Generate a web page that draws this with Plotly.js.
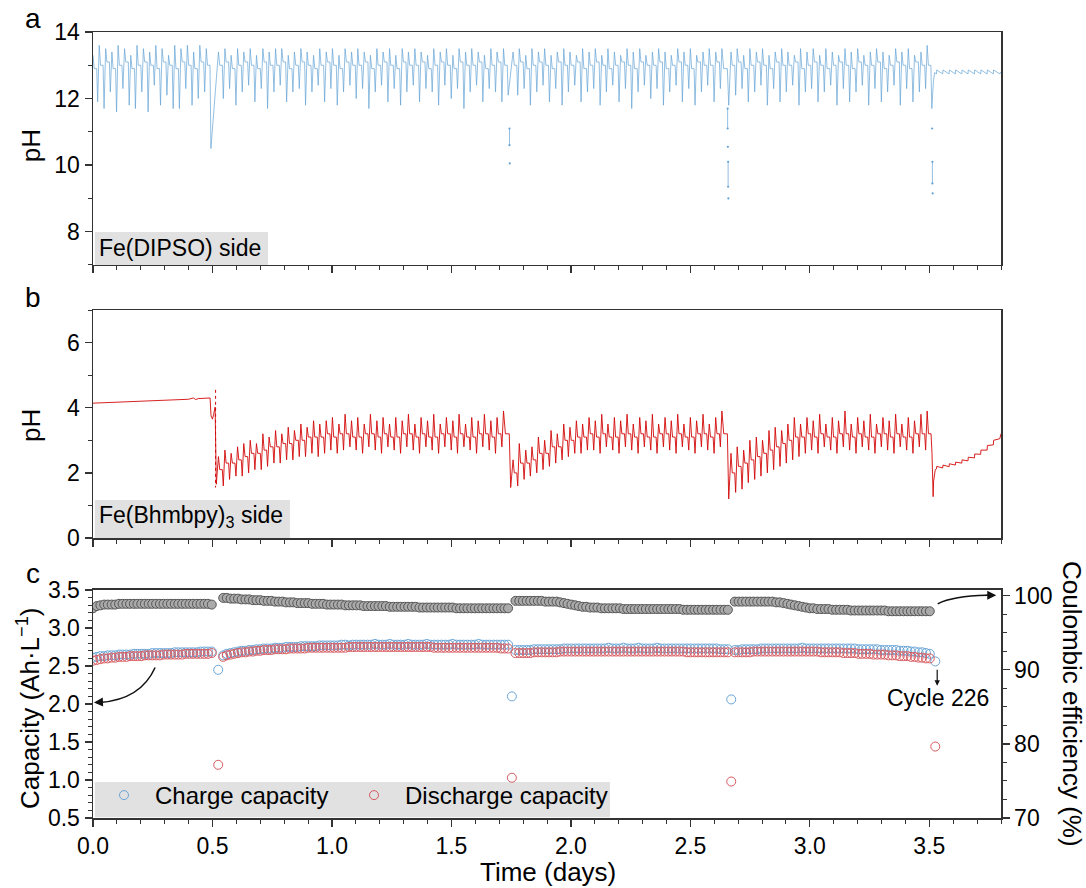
<!DOCTYPE html>
<html><head><meta charset="utf-8">
<script src="https://cdn.plot.ly/plotly-3.0.1.min.js"></script>
<style>html,body{margin:0;padding:0;background:#fff}#chart{width:1086px;height:888px}</style>
</head><body><div id="chart"></div>
<script>
// ---------- pH oscillation timeline (days) ----------
const oscT = [
 0.000,0.026,0.053,0.079,0.105,0.132,0.158,0.184,0.211,0.237,
 0.263,0.289,0.316,0.342,0.368,0.395,0.421,0.447,0.474,
 0.525,0.552,0.578,0.605,0.631,0.658,0.684,0.711,0.737,0.764,
 0.790,0.817,0.843,0.870,0.896,0.923,0.949,0.976,1.002,1.029,
 1.055,1.082,1.108,1.135,1.161,1.188,1.214,1.241,1.267,1.294,
 1.320,1.347,1.373,1.400,1.426,1.453,1.479,1.506,1.532,1.559,
 1.585,1.612,1.638,1.665,1.691,1.718,
 1.758,1.784,1.811,1.837,1.864,1.890,1.917,1.943,1.970,1.996,
 2.023,2.049,2.076,2.102,2.129,2.155,2.182,2.208,2.235,2.261,
 2.288,2.314,2.341,2.367,2.394,2.420,2.447,2.473,2.500,2.526,
 2.553,2.579,2.606,2.632,
 2.670,2.696,2.723,2.749,2.776,2.802,2.829,2.855,2.882,2.908,
 2.935,2.961,2.988,3.014,3.041,3.067,3.094,3.120,3.147,3.173,
 3.200,3.226,3.253,3.279,3.306,3.332,3.359,3.385,3.412,3.438,
 3.465,3.491
];
// ---------- panel a: Fe(DIPSO) side pH ----------
const phA_hi = [
 13.3,13.6,13.5,13.4,13.6,13.5,13.3,13.6,13.5,13.4,
 13.6,13.5,13.3,13.6,13.5,13.6,13.4,13.6,13.5,
 13.4,13.5,13.3,13.5,13.4,13.5,13.3,13.5,13.4,13.5,
 13.5,13.3,13.4,13.5,13.4,13.3,13.5,13.4,13.5,13.3,
 13.5,13.4,13.5,13.4,13.3,13.5,13.4,13.5,13.3,13.5,
 13.4,13.5,13.4,13.3,13.5,13.4,13.5,13.3,13.5,13.4,
 13.5,13.4,13.3,13.5,13.4,13.5,
 13.4,13.5,13.3,13.5,13.4,13.5,13.3,13.4,13.5,13.4,
 13.3,13.5,13.4,13.5,13.3,13.5,13.4,13.3,13.5,13.4,
 13.5,13.3,13.4,13.5,13.4,13.3,13.5,13.4,13.5,13.3,
 13.4,13.5,13.4,13.5,
 13.4,13.5,13.3,13.5,13.4,13.5,13.3,13.4,13.5,13.4,
 13.3,13.5,13.4,13.5,13.3,13.5,13.4,13.3,13.5,13.4,
 13.5,13.3,13.4,13.5,13.4,13.3,13.5,13.4,13.5,13.3,
 13.4,13.6
];
const phA_mid = [
 12.9,13.0,13.1,12.9,13.0,13.1,12.9,13.0,13.1,13.0,
 12.9,13.1,13.0,12.9,13.1,13.0,12.9,13.1,13.0,
 13.0,13.1,12.9,13.0,13.1,13.0,12.9,13.1,13.0,13.0,
 13.1,12.9,13.0,13.1,13.0,12.9,13.0,13.1,13.0,12.9,
 13.1,13.0,13.0,13.1,12.9,13.0,13.1,13.0,12.9,13.1,
 13.0,13.0,13.1,12.9,13.0,13.1,13.0,12.9,13.1,13.0,
 13.0,13.1,12.9,13.0,13.1,13.0,
 13.0,13.1,12.9,13.0,13.1,13.0,12.9,13.1,13.0,13.0,
 13.1,12.9,13.0,13.1,13.0,12.9,13.0,13.1,13.0,12.9,
 13.1,13.0,13.0,13.1,12.9,13.0,13.1,13.0,12.9,13.1,
 13.0,13.0,13.1,12.9,
 13.0,13.1,12.9,13.0,13.1,13.0,12.9,13.1,13.0,13.0,
 13.1,12.9,13.0,13.1,13.0,12.9,13.0,13.1,13.0,12.9,
 13.1,13.0,13.0,13.1,12.9,13.0,13.1,13.0,12.9,13.1,
 13.0,13.0
];
const phA_lo = [
 11.9,11.7,12.2,11.6,12.3,11.8,11.7,12.2,11.6,12.4,
 11.8,12.1,11.7,11.7,12.3,11.8,12.0,12.2,10.5,
 12.0,12.3,11.8,12.2,12.4,11.9,12.3,11.7,12.2,12.4,
 11.9,12.2,12.3,11.8,12.2,12.4,11.9,12.3,11.8,12.2,
 12.4,12.0,12.3,11.7,12.2,12.4,11.9,12.3,11.8,12.2,
 12.4,11.9,12.3,12.2,11.8,12.4,12.0,12.3,11.7,12.2,
 12.4,11.9,12.3,12.2,11.9,12.1,
 12.1,12.3,11.8,12.2,12.4,11.9,12.3,11.8,12.2,12.4,
 11.9,12.2,12.3,11.8,12.2,12.4,11.9,12.3,11.7,12.2,
 12.4,12.0,12.3,11.8,12.2,12.4,11.9,12.3,11.8,12.2,
 12.4,11.9,12.3,11.8,
 12.1,12.3,11.9,12.2,12.4,11.8,12.3,11.9,12.2,12.4,
 11.8,12.2,12.3,11.9,12.2,12.4,11.8,12.3,11.9,12.2,
 12.4,11.8,12.3,11.9,12.2,12.4,11.8,12.3,11.9,12.2,
 12.3,11.7
];
const tailA_t = [3.517,3.522,3.530,3.531,3.556,3.557,3.583,3.584,3.609,3.610,3.636,3.637,3.662,3.663,3.689,3.690,3.715,3.716,3.742,3.743,3.768,3.769,3.795,3.800];
const tailA_v = [12.5,12.78,12.74,12.86,12.74,12.86,12.74,12.86,12.74,12.86,12.74,12.86,12.74,12.86,12.74,12.86,12.74,12.86,12.74,12.86,12.74,12.86,12.74,12.80];
const evA_t = [1.743,1.743,null,1.744,null,2.656,2.656,null,2.657,null,2.658,2.658,null,2.659,null,3.512,null,3.513,3.513,null,3.514];
const evA_v = [11.1,10.6,null,10.05,null,11.7,11.1,null,10.55,null,10.1,9.35,null,9.0,null,11.1,null,10.1,9.45,null,9.15];

// ---------- panel b: Fe(Bhmbpy)3 side pH ----------
const preB_t = [0.000,0.100,0.200,0.300,0.400,0.420,0.430,0.440,0.490,0.494,0.500,0.505,0.511,0.516];
const preB_v = [4.14,4.17,4.20,4.23,4.26,4.30,4.25,4.28,4.30,3.75,3.65,3.80,4.02,1.65];
const phB_hi = [
 2.5,2.7,2.6,2.8,2.9,3.0,2.9,3.2,3.1,3.3,
 3.2,3.4,3.3,3.5,3.4,3.6,3.5,3.6,3.7,3.5,
 3.8,3.6,3.7,3.5,3.8,3.6,3.7,3.5,3.7,3.6,
 3.8,3.5,3.7,3.6,3.8,3.5,3.7,3.6,3.8,3.5,
 3.7,3.6,3.8,3.6,3.7,3.9,
 2.4,2.9,2.7,2.8,3.1,3.0,3.3,3.2,3.5,3.4,
 3.6,3.5,3.7,3.6,3.8,3.5,3.7,3.6,3.8,3.5,
 3.7,3.6,3.8,3.5,3.7,3.6,3.8,3.5,3.7,3.6,
 3.8,3.5,3.7,3.9,
 2.6,2.8,2.7,3.0,3.1,3.0,3.3,3.4,3.3,3.5,
 3.7,3.5,3.7,3.6,3.8,3.5,3.7,3.6,3.9,3.5,
 3.7,3.6,3.8,3.5,3.7,3.6,3.8,3.5,3.7,3.6,
 3.8,3.9
];
const phB_mid = [
 2.1,2.3,2.3,2.4,2.5,2.6,2.6,2.7,2.8,2.8,
 2.9,2.9,3.0,3.0,3.1,3.1,3.1,3.2,3.1,3.2,
 3.2,3.1,3.1,3.2,3.2,3.1,3.2,3.1,3.1,3.2,
 3.2,3.1,3.2,3.1,3.1,3.2,3.2,3.1,3.2,3.1,
 3.1,3.2,3.2,3.1,3.2,3.2,
 2.0,2.3,2.3,2.4,2.6,2.6,2.8,2.8,3.0,3.0,
 3.1,3.1,3.2,3.1,3.2,3.1,3.1,3.2,3.2,3.1,
 3.2,3.1,3.1,3.2,3.2,3.1,3.2,3.1,3.1,3.2,
 3.2,3.1,3.2,3.2,
 2.0,2.2,2.3,2.4,2.5,2.6,2.7,2.8,2.9,3.0,
 3.1,3.1,3.2,3.1,3.2,3.1,3.1,3.2,3.2,3.1,
 3.2,3.1,3.1,3.2,3.2,3.1,3.2,3.1,3.1,3.2,
 3.2,3.2
];
const phB_lo = [
 1.6,1.8,1.9,1.9,2.0,2.1,2.1,2.2,2.3,2.3,
 2.4,2.4,2.5,2.5,2.6,2.5,2.6,2.7,2.6,2.7,
 2.8,2.7,2.6,2.8,2.7,2.6,2.8,2.7,2.6,2.8,
 2.7,2.6,2.8,2.7,2.6,2.8,2.7,2.6,2.8,2.7,
 2.6,2.8,2.7,2.6,2.8,1.55,
 1.6,1.8,1.9,2.0,2.1,2.2,2.3,2.4,2.5,2.6,
 2.6,2.7,2.7,2.6,2.8,2.7,2.6,2.8,2.7,2.6,
 2.8,2.7,2.6,2.8,2.7,2.6,2.8,2.7,2.6,2.8,
 2.7,2.6,2.8,1.2,
 1.4,1.5,1.7,1.8,1.9,2.0,2.1,2.2,2.3,2.4,
 2.5,2.6,2.7,2.6,2.8,2.7,2.6,2.8,2.7,2.6,
 2.8,2.7,2.6,2.8,2.7,2.6,2.8,2.7,2.6,2.8,
 2.7,2.6
];
const tailB_t = [3.516,3.518,3.521,3.525,3.530,3.531,3.556,3.557,3.583,3.584,3.609,3.610,3.636,3.637,3.662,3.663,3.689,3.690,3.715,3.716,3.742,3.743,3.768,3.769,3.795,3.800];
const tailB_v = [1.27,1.75,2.0,2.1,2.12,2.2,2.15,2.24,2.19,2.28,2.24,2.33,2.30,2.40,2.37,2.48,2.46,2.58,2.57,2.70,2.70,2.84,2.86,3.0,3.05,3.2];
const evB_t = [0.513,0.513];
const evB_v = [4.55,1.55];

// ---------- panel c: cycling (226 cycles) ----------
const cycT = [
 0.000,0.016,0.031,0.047,0.062,0.078,0.093,0.109,0.124,0.140,
 0.155,0.171,0.186,0.202,0.217,0.233,0.248,0.264,0.280,0.295,
 0.311,0.326,0.342,0.357,0.373,0.388,0.404,0.419,0.435,0.450,
 0.466,0.481,0.497,
 0.524,
 0.545,0.560,0.576,0.591,0.607,0.622,0.638,0.653,0.669,0.684,
 0.700,0.715,0.731,0.746,0.762,0.777,0.793,0.808,0.824,0.839,
 0.855,0.870,0.886,0.901,0.917,0.932,0.948,0.963,0.979,0.994,
 1.009,1.025,1.040,1.056,1.071,1.087,1.102,1.118,1.133,1.149,
 1.164,1.180,1.195,1.211,1.226,1.242,1.257,1.273,1.288,1.304,
 1.319,1.335,1.350,1.366,1.381,1.397,1.412,1.428,1.443,1.459,
 1.474,1.490,1.505,1.521,1.536,1.552,1.567,1.583,1.598,1.614,
 1.629,1.645,1.660,1.676,1.691,1.707,1.722,1.737,
 1.753,
 1.768,1.784,1.799,1.815,1.830,1.846,1.862,1.877,1.893,1.908,
 1.924,1.940,1.955,1.971,1.986,2.002,2.018,2.033,2.049,2.064,
 2.080,2.096,2.111,2.127,2.142,2.158,2.174,2.189,2.205,2.220,
 2.236,2.252,2.267,2.283,2.298,2.314,2.330,2.345,2.361,2.376,
 2.392,2.408,2.423,2.439,2.454,2.470,2.486,2.501,2.517,2.532,
 2.548,2.564,2.579,2.595,2.610,2.626,2.642,2.657,
 2.671,
 2.686,2.702,2.717,2.733,2.749,2.764,2.780,2.796,2.812,2.827,
 2.843,2.859,2.874,2.890,2.906,2.921,2.937,2.953,2.968,2.984,
 3.000,3.015,3.031,3.047,3.063,3.078,3.094,3.110,3.125,3.141,
 3.157,3.172,3.188,3.204,3.219,3.235,3.251,3.266,3.282,3.298,
 3.313,3.329,3.345,3.361,3.376,3.392,3.408,3.423,3.439,3.455,
 3.470,3.486,3.502,
 3.525
];
const chargeCap = [
 2.61,2.62,2.63,2.63,2.64,2.64,2.64,2.65,2.65,2.65,
 2.65,2.66,2.66,2.66,2.66,2.66,2.67,2.67,2.67,2.67,
 2.67,2.67,2.68,2.68,2.68,2.68,2.68,2.68,2.68,2.69,
 2.69,2.69,2.69,
 2.45,
 2.64,2.66,2.67,2.68,2.69,2.70,2.70,2.71,2.71,2.72,
 2.72,2.73,2.73,2.73,2.74,2.74,2.74,2.75,2.75,2.75,
 2.75,2.76,2.76,2.76,2.76,2.76,2.77,2.77,2.77,2.77,
 2.77,2.77,2.78,2.78,2.77,2.78,2.78,2.78,2.78,2.78,
 2.78,2.79,2.78,2.78,2.78,2.79,2.78,2.78,2.78,2.78,
 2.79,2.78,2.78,2.78,2.78,2.79,2.78,2.78,2.78,2.78,
 2.78,2.78,2.79,2.78,2.78,2.78,2.78,2.78,2.78,2.79,
 2.78,2.78,2.78,2.78,2.78,2.78,2.78,2.78,
 2.10,
 2.71,2.71,2.71,2.71,2.71,2.72,2.72,2.72,2.72,2.72,
 2.72,2.72,2.72,2.73,2.73,2.73,2.73,2.73,2.73,2.73,
 2.73,2.73,2.73,2.73,2.73,2.74,2.73,2.73,2.73,2.74,
 2.73,2.73,2.73,2.74,2.73,2.73,2.73,2.73,2.74,2.73,
 2.73,2.73,2.73,2.73,2.73,2.73,2.73,2.73,2.73,2.73,
 2.73,2.73,2.73,2.73,2.73,2.72,2.72,2.72,
 2.06,
 2.71,2.71,2.72,2.72,2.72,2.72,2.72,2.73,2.73,2.73,
 2.73,2.73,2.73,2.73,2.73,2.73,2.73,2.73,2.74,2.73,
 2.73,2.73,2.73,2.73,2.73,2.73,2.73,2.73,2.73,2.73,
 2.73,2.73,2.73,2.72,2.72,2.72,2.72,2.72,2.72,2.71,
 2.71,2.71,2.71,2.71,2.70,2.70,2.70,2.69,2.69,2.68,
 2.68,2.67,2.66,
 2.56
];
const dischargeCap = [
 2.57,2.58,2.59,2.60,2.60,2.61,2.61,2.62,2.62,2.62,
 2.63,2.63,2.63,2.63,2.64,2.64,2.64,2.64,2.64,2.65,
 2.65,2.65,2.65,2.65,2.65,2.66,2.66,2.66,2.66,2.66,
 2.66,2.66,2.67,
 1.20,
 2.62,2.64,2.65,2.66,2.67,2.68,2.68,2.69,2.69,2.70,
 2.70,2.71,2.71,2.71,2.72,2.72,2.72,2.72,2.73,2.73,
 2.73,2.73,2.73,2.74,2.74,2.74,2.74,2.74,2.74,2.74,
 2.74,2.74,2.74,2.74,2.75,2.75,2.75,2.75,2.75,2.75,
 2.75,2.75,2.75,2.75,2.75,2.75,2.75,2.75,2.75,2.75,
 2.75,2.75,2.75,2.75,2.75,2.75,2.75,2.74,2.74,2.74,
 2.74,2.74,2.74,2.74,2.74,2.74,2.74,2.74,2.74,2.74,
 2.74,2.74,2.74,2.74,2.74,2.73,2.73,2.73,
 1.03,
 2.67,2.67,2.67,2.67,2.67,2.68,2.68,2.68,2.68,2.68,
 2.68,2.68,2.69,2.69,2.69,2.69,2.69,2.69,2.69,2.69,
 2.69,2.69,2.69,2.69,2.69,2.69,2.69,2.69,2.69,2.69,
 2.69,2.69,2.69,2.69,2.69,2.69,2.69,2.69,2.69,2.69,
 2.69,2.69,2.69,2.69,2.69,2.69,2.68,2.68,2.68,2.68,
 2.68,2.68,2.68,2.68,2.68,2.68,2.68,2.68,
 0.98,
 2.68,2.68,2.68,2.68,2.68,2.69,2.69,2.69,2.69,2.69,
 2.69,2.69,2.69,2.69,2.69,2.69,2.69,2.69,2.69,2.69,
 2.69,2.69,2.69,2.68,2.68,2.68,2.68,2.68,2.68,2.67,
 2.67,2.67,2.67,2.66,2.66,2.66,2.66,2.65,2.65,2.65,
 2.65,2.64,2.64,2.64,2.63,2.63,2.63,2.62,2.62,2.61,
 2.61,2.60,2.60,
 1.44
];
const coulombicEff = [
 98.3,98.6,98.7,98.8,98.8,98.8,98.8,98.9,98.9,98.9,
 98.9,98.9,98.9,98.9,98.9,98.9,98.9,98.9,98.9,98.9,
 98.9,98.9,98.9,98.9,98.9,98.9,98.9,98.9,98.9,98.9,
 98.9,98.9,98.8,
 49.0,
 99.7,99.7,99.6,99.6,99.6,99.5,99.5,99.5,99.4,99.4,
 99.4,99.3,99.3,99.3,99.2,99.2,99.2,99.1,99.1,99.1,
 99.0,99.0,99.0,99.0,98.9,98.9,98.9,98.9,98.8,98.8,
 98.8,98.8,98.8,98.7,98.7,98.7,98.7,98.7,98.6,98.6,
 98.6,98.6,98.6,98.6,98.6,98.5,98.5,98.5,98.5,98.5,
 98.5,98.5,98.5,98.4,98.4,98.4,98.4,98.4,98.4,98.4,
 98.4,98.4,98.4,98.3,98.3,98.3,98.3,98.3,98.3,98.3,
 98.3,98.3,98.3,98.3,98.3,98.3,98.3,98.3,
 49.0,
 99.3,99.3,99.3,99.3,99.3,99.3,99.3,99.3,99.2,99.2,
 99.2,99.2,99.1,99.0,98.9,98.8,98.7,98.6,98.5,98.5,
 98.4,98.4,98.4,98.3,98.3,98.3,98.3,98.3,98.3,98.2,
 98.2,98.2,98.2,98.2,98.2,98.2,98.2,98.2,98.2,98.2,
 98.2,98.2,98.2,98.2,98.2,98.1,98.1,98.1,98.1,98.1,
 98.1,98.1,98.1,98.1,98.1,98.1,98.1,98.1,
 47.6,
 99.2,99.2,99.2,99.2,99.2,99.2,99.2,99.2,99.2,99.2,
 99.2,99.1,99.1,99.0,98.9,98.8,98.7,98.6,98.5,98.4,
 98.3,98.3,98.2,98.2,98.2,98.2,98.1,98.1,98.1,98.1,
 98.1,98.0,98.0,98.0,98.0,98.0,98.0,98.0,98.0,98.0,
 98.0,97.9,97.9,97.9,97.9,97.9,97.9,97.9,97.9,97.9,
 97.9,97.9,97.9,
 56.5
];

// ---------- build oscillating traces ----------
function zig(ts, hi, mid, lo) {
  const base = ts[1] - ts[0];
  const x = [], y = [];
  ts.forEach((t, i) => {
    let p = (i + 1 < ts.length) ? ts[i + 1] - t : base;
    if (p > 1.5 * base) p = base;
    x.push(t, t + 0.2 * p, t + 0.6 * p, t + 0.75 * p);
    y.push(hi[i], mid[i], mid[i], lo[i]);
  });
  return {x, y};
}
const nPre = oscT.filter(t => t < 0.5).length;
const zA = zig(oscT, phA_hi, phA_mid, phA_lo);
const zB = zig(oscT.slice(nPre), phB_hi, phB_mid, phB_lo);

const BLUE = 'rgb(100,163,214)';
const RED = 'rgb(210,8,8)';
const AX = '#333';
const FONT = 'Arial, "Liberation Sans", sans-serif';

const traces = [
  {x: zA.x.concat(tailA_t), y: zA.y.concat(tailA_v), xaxis:'x', yaxis:'y', mode:'lines',
   line:{color:BLUE, width:0.7}, showlegend:false, hoverinfo:'skip'},
  {x: evA_t, y: evA_v, xaxis:'x', yaxis:'y', mode:'lines+markers',
   line:{color:BLUE, width:0.7}, marker:{size:2.2, color:BLUE}, showlegend:false, hoverinfo:'skip'},
  {x: preB_t.concat(zB.x, tailB_t), y: preB_v.concat(zB.y, tailB_v), xaxis:'x2', yaxis:'y2', mode:'lines',
   line:{color:RED, width:0.9}, showlegend:false, hoverinfo:'skip'},
  {x: evB_t, y: evB_v, xaxis:'x2', yaxis:'y2', mode:'lines',
   line:{color:RED, width:1, dash:'dot'}, showlegend:false, hoverinfo:'skip'},
  {x: cycT, y: chargeCap, xaxis:'x3', yaxis:'y3', mode:'markers', name:'Charge capacity',
   legendwidth:183,
   marker:{symbol:'circle-open', size:9, color:'rgb(105,165,215)', line:{width:1}}},
  {x: cycT, y: dischargeCap, xaxis:'x3', yaxis:'y3', mode:'markers', name:'Discharge capacity',
   legendwidth:205,
   marker:{symbol:'circle-open', size:9, color:'rgb(215,90,95)', line:{width:1}}},
  {x: cycT, y: coulombicEff, xaxis:'x3', yaxis:'y4', mode:'markers', name:'Coulombic efficiency',
   showlegend:false,
   marker:{symbol:'circle', size:9, color:'rgb(170,170,170)', line:{width:1, color:'rgb(85,85,85)'}}}
];

const common = {
  showline:true, linecolor:AX, linewidth:1.5, mirror:true,
  ticks:'outside', ticklen:7, tickwidth:1.3, tickcolor:AX,
  showgrid:false, zeroline:false,
  tickfont:{size:23, family:FONT, color:'#000'}
};
const xCommon = Object.assign({}, common, {
  range:[0,3.8], dtick:0.5, tick0:0,
  minor:{ticks:'outside', ticklen:4, tickwidth:1, tickcolor:AX, dtick:0.1, showgrid:false}
});

function lab(text, x, y, extra) {
  return Object.assign({text, xref:'paper', yref:'paper', x, y, xanchor:'center', yanchor:'middle', showarrow:false}, extra || {});
}
const TITLE = {size:26, family:FONT, color:'#000'};

const layout = {
  width:1086, height:888,
  margin:{l:93, r:85, t:32, b:70},
  paper_bgcolor:'#fff', plot_bgcolor:'#fff',
  font:{family:FONT, size:23, color:'#000'},
  showlegend:true,
  legend:{orientation:'h', x:0.0, y:0.0, xanchor:'left', yanchor:'bottom',
          bgcolor:'rgba(0,0,0,0)', font:{size:24, family:FONT}, borderwidth:0,
          itemwidth:52, tracegroupgap:0},
  xaxis: Object.assign({}, xCommon, {anchor:'y', showticklabels:false}),
  yaxis: Object.assign({}, common, {domain:[0.7036,1], range:[7,14], dtick:2, tick0:0,
          minor:{ticks:'outside', ticklen:4, tickwidth:1, tickcolor:AX, dtick:1, showgrid:false}}),
  xaxis2: Object.assign({}, xCommon, {anchor:'y2', showticklabels:false}),
  yaxis2: Object.assign({}, common, {domain:[0.3562,0.6463], range:[0,7], dtick:2, tick0:0,
          minor:{ticks:'outside', ticklen:4, tickwidth:1, tickcolor:AX, dtick:1, showgrid:false}}),
  xaxis3: Object.assign({}, xCommon, {anchor:'y3', tickformat:'.1f'}),
  yaxis3: Object.assign({}, common, {domain:[0,0.2901], range:[0.5,3.5], dtick:0.5, tick0:0, tickformat:'.1f',
          minor:{ticks:'outside', ticklen:4, tickwidth:1, tickcolor:AX, dtick:0.1, showgrid:false}}),
  yaxis4: Object.assign({}, common, {overlaying:'y3', side:'right', anchor:'x3', mirror:false,
          range:[70,100.77], dtick:10, tick0:0,
          minor:{ticks:'outside', ticklen:4, tickwidth:1, tickcolor:AX, dtick:2.5, showgrid:false}}),
  shapes:[
    {type:'rect', xref:'paper', yref:'paper', x0:0.002, x1:0.1927, y0:0.7036, y1:0.7455,
     fillcolor:'#e1e1e1', line:{width:0}, layer:'below'},
    {type:'rect', xref:'paper', yref:'paper', x0:0.002, x1:0.217, y0:0.3562, y1:0.4046,
     fillcolor:'#e1e1e1', line:{width:0}, layer:'below'},
    {type:'rect', xref:'paper', yref:'paper', x0:0.002, x1:0.5694, y0:0.001, y1:0.0458,
     fillcolor:'#e1e1e1', line:{width:0}, layer:'below'},
    {type:'path', xref:'x3', yref:'y3', path:'M0.26,2.48 Q0.20,2.06 0.03,2.02',
     line:{color:'#111', width:1.5}},
    {type:'path', xref:'x3', yref:'y4', path:'M3.535,98.9 Q3.60,99.95 3.74,100.05',
     line:{color:'#111', width:1.5}}
  ],
  annotations:[
    lab('a', -0.0661, 1.0178, {font:{size:28}}),
    lab('b', -0.0661, 0.6628, {font:{size:28}}),
    lab('c', -0.0661, 0.3117, {font:{size:28}}),
    lab('pH', -0.0683, 0.856, {textangle:-90, font:TITLE}),
    lab('pH', -0.0683, 0.50, {textangle:-90, font:TITLE}),
    lab('Capacity (Ah·L<sup>−1</sup>)', -0.0705, 0.14, {textangle:-90, font:TITLE}),
    lab('Coulombic efficiency (%)', 1.0782, 0.145, {textangle:90, font:TITLE}),
    lab('Time (days)', 0.501, -0.0685, {font:TITLE}),
    lab('Fe(DIPSO) side', 0.0044, 0.7252, {xanchor:'left'}),
    lab('Fe(Bhmbpy)<sub>3</sub> side', 0.0044, 0.383, {xanchor:'left'}),
    {text:'Cycle 226', xref:'x3', yref:'y3', x:3.536, y:2.08, xanchor:'center', yanchor:'middle', showarrow:false, font:{size:23}},
    {text:'', xref:'x3', yref:'y3', axref:'x3', ayref:'y3', x:0.004, y:2.02, ax:0.045, ay:2.025,
     showarrow:true, arrowhead:2, arrowsize:1.2, arrowwidth:1.5, arrowcolor:'#111'},
    {text:'', xref:'x3', yref:'y4', axref:'x3', ayref:'y4', x:3.78, y:100.05, ax:3.73, ay:100.05,
     showarrow:true, arrowhead:2, arrowsize:1.2, arrowwidth:1.5, arrowcolor:'#111'},
    {text:'', xref:'x3', yref:'y3', axref:'x3', ayref:'y3', x:3.533, y:2.24, ax:3.533, ay:2.47,
     showarrow:true, arrowhead:2, arrowsize:0.9, arrowwidth:1.2, arrowcolor:'#111'}
  ]
};

Plotly.newPlot('chart', traces, layout, {displayModeBar:false, staticPlot:true});
</script></body></html>
